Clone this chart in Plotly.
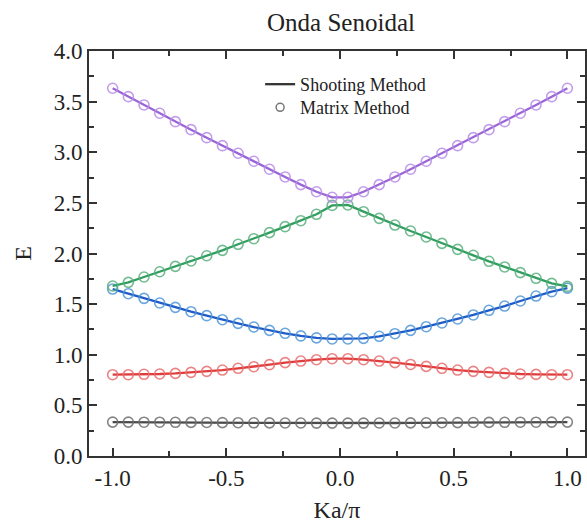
import plotly.graph_objects as go

# ---- data ----
ka_over_pi = [-1.0, -0.931, -0.8621, -0.7931, -0.7241, -0.6552, -0.5862, -0.5172,
              -0.4483, -0.3793, -0.3103, -0.2414, -0.1724, -0.1034, -0.0345,
              0.0345, 0.1034, 0.1724, 0.2414, 0.3103, 0.3793, 0.4483, 0.5172,
              0.5862, 0.6552, 0.7241, 0.7931, 0.8621, 0.931, 1.0]

band1 = [0.335, 0.335, 0.334, 0.334, 0.333, 0.332, 0.331, 0.330, 0.329, 0.328,
         0.327, 0.326, 0.326, 0.325, 0.325, 0.325, 0.325, 0.326, 0.326, 0.327,
         0.328, 0.329, 0.330, 0.331, 0.332, 0.333, 0.334, 0.334, 0.335, 0.335]
band2 = [0.803, 0.803, 0.807, 0.810, 0.816, 0.826, 0.836, 0.849, 0.866, 0.882,
         0.902, 0.922, 0.938, 0.951, 0.961, 0.961, 0.951, 0.938, 0.922, 0.904,
         0.885, 0.866, 0.849, 0.836, 0.826, 0.816, 0.810, 0.806, 0.803, 0.803]
band3 = [1.649, 1.603, 1.557, 1.511, 1.468, 1.425, 1.386, 1.346, 1.310, 1.274,
         1.241, 1.212, 1.186, 1.167, 1.156, 1.156, 1.162, 1.182, 1.208, 1.241,
         1.277, 1.314, 1.353, 1.393, 1.439, 1.481, 1.531, 1.580, 1.623, 1.658]
band4 = [1.679, 1.715, 1.768, 1.820, 1.873, 1.926, 1.978, 2.031, 2.091, 2.146,
         2.206, 2.265, 2.324, 2.387, 2.475, 2.479, 2.413, 2.347, 2.281, 2.222,
         2.163, 2.100, 2.041, 1.982, 1.923, 1.867, 1.811, 1.755, 1.705, 1.675]
band5 = [3.632, 3.549, 3.467, 3.385, 3.302, 3.223, 3.144, 3.065, 2.990, 2.911,
         2.832, 2.756, 2.680, 2.610, 2.555, 2.555, 2.610, 2.680, 2.756, 2.832,
         2.911, 2.990, 3.065, 3.144, 3.223, 3.302, 3.385, 3.467, 3.549, 3.632]

bands = [band1, band2, band3, band4, band5]
line_colors = ["#4a4a4a", "#e03c3c", "#1f5cc8", "#2f9e5f", "#9a66d6"]
marker_colors = ["rgba(110,110,110,0.85)", "rgba(230,110,110,0.85)",
                 "rgba(80,150,215,0.85)", "rgba(90,175,125,0.85)",
                 "rgba(185,140,230,0.85)"]

x_tickvals = [-1.0, -0.5, 0.0, 0.5, 1.0]
x_ticktext = ["-1.0", "-0.5", "0.0", "0.5", "1.0"]
y_tickvals = [0.0, 0.5, 1.0, 1.5, 2.0, 2.5, 3.0, 3.5, 4.0]
y_ticktext = ["0.0", "0.5", "1.0", "1.5", "2.0", "2.5", "3.0", "3.5", "4.0"]

FONT = "Liberation Serif, Times New Roman, serif"

fig = go.Figure()
for yv, lc, mc in zip(bands, line_colors, marker_colors):
    fig.add_trace(go.Scatter(
        x=ka_over_pi, y=yv, mode="lines+markers", showlegend=False,
        line=dict(color=lc, width=2.3),
        marker=dict(symbol="circle-open", size=10, color=mc, line=dict(width=1.6)),
    ))

# legend entries
fig.add_trace(go.Scatter(x=[None], y=[None], mode="lines", name="Shooting Method",
                         legend="legend", line=dict(color="#333333", width=2.3)))
fig.add_trace(go.Scatter(x=[None], y=[None], mode="markers", name="Matrix Method",
                         legend="legend2",
                         marker=dict(symbol="circle-open", size=8, color="#777777",
                                     line=dict(width=1.5))))

axis_common = dict(
    showline=True, linecolor="#333333", linewidth=2, mirror="ticks",
    ticks="inside", ticklen=8, tickwidth=1.5, tickcolor="#333333",
    showgrid=False, zeroline=False,
    tickfont=dict(family=FONT, size=23, color="#222222"),
)

fig.update_xaxes(
    range=[-1.104, 1.0775], tickvals=x_tickvals, ticktext=x_ticktext,
    minor=dict(ticks="inside", ticklen=5, tickwidth=1.5, tickcolor="#333333", dtick=0.25, tick0=0),
    title=dict(text="Ka/π", font=dict(family=FONT, size=24, color="#222222"), standoff=12),
    **axis_common,
)
fig.update_yaxes(
    range=[0, 4.0], tickvals=y_tickvals, ticktext=y_ticktext,
    minor=dict(ticks="inside", ticklen=5, tickwidth=1.5, tickcolor="#333333", dtick=0.25, tick0=0),
    title=dict(text="E", font=dict(family=FONT, size=24, color="#222222"), standoff=15),
    **axis_common,
)

legend_common = dict(xanchor="left", yanchor="top",
                     font=dict(family=FONT, size=18, color="#222222"),
                     bgcolor="rgba(0,0,0,0)", itemwidth=30)

fig.update_layout(
    width=587, height=527,
    margin=dict(l=89, r=0, t=51, b=71),
    paper_bgcolor="white", plot_bgcolor="white",
    title=dict(text="Onda Senoidal", x=341 / 587, xanchor="center", y=1 - 22 / 527,
               yanchor="middle", font=dict(family=FONT, size=25, color="#222222")),
    legend=dict(x=0.345, y=0.963, **legend_common),
    legend2=dict(x=0.345, y=0.906, **legend_common),
    showlegend=True,
)

fig.write_html("out.html")
